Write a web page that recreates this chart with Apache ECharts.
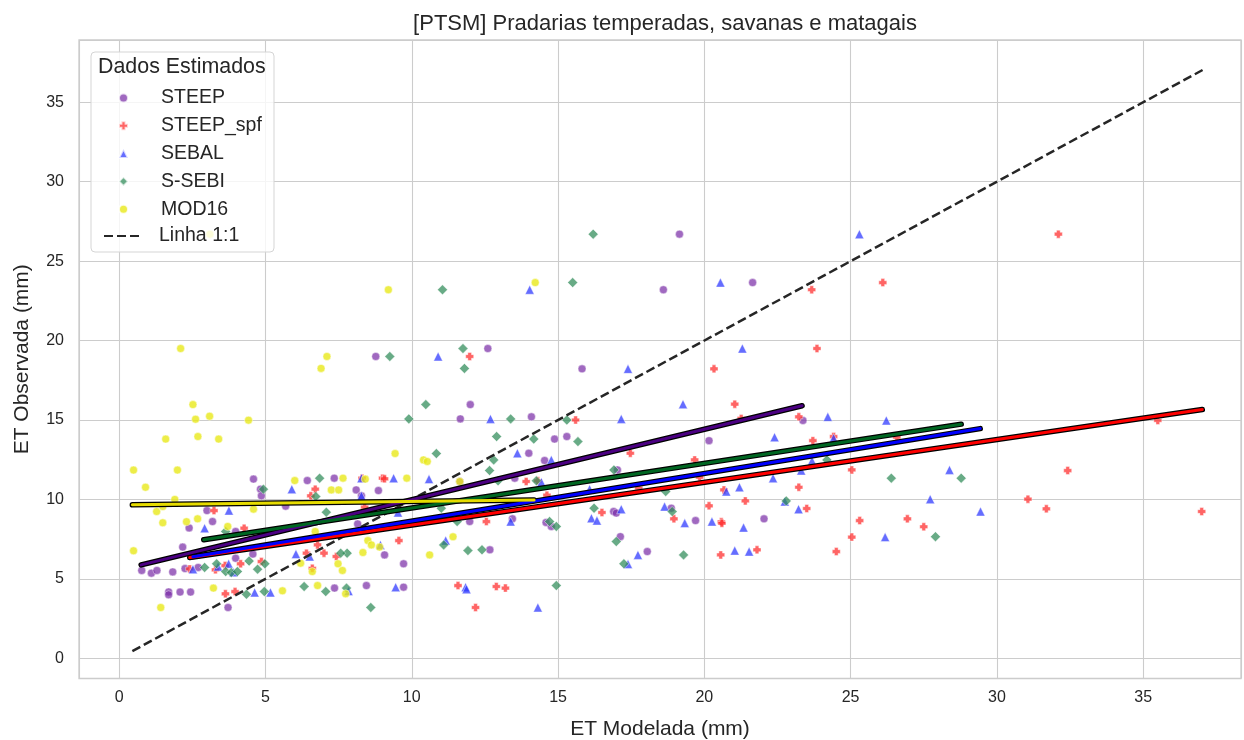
<!DOCTYPE html>
<html><head><meta charset="utf-8">
<script src="https://cdn.jsdelivr.net/npm/echarts@6/dist/echarts.min.js"></script>
<style>html,body{margin:0;padding:0;background:#fff}#c{width:1244px;height:740px}</style>
</head><body><div id="c"></div>
<script>
// ---- data (ET Modelada, ET Observada) ----
const steep = [[19.15,26.7],[21.65,23.65],[18.6,23.2],[12.6,19.5],[8.77,19.0],[15.82,18.22],[12.0,15.97],[11.66,15.07],[14.09,15.2],[23.37,14.97],
[15.3,13.96],[14.88,13.8],[20.16,13.7],[14.0,12.91],[14.54,12.45],[13.52,11.34],[11.64,11.13],[7.35,11.34],[4.59,11.28],[6.43,11.19],
[17.03,11.86],[4.83,10.65],[8.1,10.6],[8.86,10.56],[4.86,10.23],[8.28,10.23],[5.69,9.58],[3.0,9.3],[16.9,9.24],[16.99,9.14],[18.87,9.45],
[3.19,8.61],[8.15,8.46],[13.44,8.78],[11.98,8.61],[14.59,8.55],[14.77,8.3],[19.7,8.67],[22.04,8.78],[2.39,8.21],[3.98,7.98],[17.13,7.66],
[2.17,7.0],[12.67,6.83],[9.07,6.51],[18.05,6.72],[3.98,6.3],[4.57,6.56],[9.72,5.95],[0.77,5.53],[1.1,5.36],[1.29,5.53],[1.83,5.44],
[2.25,5.65],[2.7,5.72],[1.69,4.18],[1.69,4.0],[2.08,4.17],[2.44,4.17],[8.45,4.58],[9.72,4.48],[7.36,4.42],[3.72,3.2]];
const steepSpf = [[32.1,26.7],[26.1,23.65],[23.67,23.2],[23.85,19.5],[11.98,19.0],[20.33,18.22],[21.04,16.0],[23.23,15.2],[21.26,15.1],[15.6,15.0],
[35.5,14.97],[24.42,13.96],[26.58,13.92],[23.71,13.7],[17.47,12.91],[19.67,12.49],[25.04,11.86],[32.42,11.82],[19.84,11.4],[8.3,11.34],
[9.0,11.34],[9.07,11.3],[13.91,11.13],[14.31,11.17],[17.76,10.71],[20.67,10.6],[23.23,10.77],[6.7,10.65],[6.55,10.23],[14.62,10.27],
[21.4,9.91],[31.06,10.02],[20.16,9.6],[8.39,9.52],[3.24,9.3],[16.5,9.18],[23.5,9.43],[31.69,9.41],[37.0,9.24],[12.55,8.61],[18.96,8.78],
[20.58,8.59],[20.6,8.5],[25.31,8.67],[26.94,8.78],[27.5,8.28],[4.27,8.19],[25.04,7.63],[9.56,7.41],[6.78,7.14],[24.51,6.72],[21.8,6.83],
[20.56,6.51],[6.4,6.62],[7.0,6.62],[7.42,6.41],[4.86,6.09],[4.15,5.95],[3.62,5.84],[3.29,5.57],[2.41,5.63],[6.6,5.67],[11.58,4.58],
[12.89,4.52],[13.2,4.42],[3.63,4.06],[3.96,4.2],[12.18,3.2]];
const sebal = [[25.3,26.7],[20.55,23.65],[14.03,23.2],[21.3,19.5],[10.9,19.0],[17.39,18.22],[19.27,16.0],[12.69,15.07],[17.16,15.07],[24.22,15.2],
[26.22,14.97],[24.42,13.86],[22.4,13.92],[13.61,12.91],[14.77,12.49],[23.68,12.43],[23.31,11.82],[22.35,11.34],[8.28,11.34],[9.38,11.34],
[10.59,11.28],[14.43,11.09],[28.38,11.86],[16.08,10.65],[5.9,10.65],[20.75,10.5],[21.2,10.77],[8.28,10.23],[27.72,10.02],[22.75,9.87],
[3.75,9.3],[9.53,9.18],[17.16,9.39],[18.64,9.55],[23.22,9.39],[29.44,9.24],[13.38,8.61],[16.14,8.82],[16.33,8.67],[19.33,8.51],[20.26,8.61],
[21.34,8.23],[2.92,8.19],[26.18,7.63],[11.16,7.41],[8.93,7.14],[17.73,6.51],[21.04,6.78],[21.53,6.72],[6.04,6.56],[6.51,6.41],[3.74,5.95],
[3.38,5.78],[2.52,5.61],[3.91,5.42],[17.39,5.93],[4.63,4.15],[5.17,4.15],[7.84,4.23],[9.45,4.48],[11.84,4.48],[11.87,4.35],[14.31,3.2]];
const ssebi = [[16.2,26.7],[15.5,23.65],[11.05,23.2],[11.75,19.5],[9.25,19.0],[11.8,18.25],[10.48,15.97],[9.9,15.07],[13.38,15.07],[15.3,15.0],
[12.9,13.96],[14.17,13.8],[15.68,13.64],[10.84,12.89],[12.8,12.49],[24.19,12.49],[12.66,11.82],[16.91,11.86],[6.85,11.34],[12.95,11.17],
[14.26,11.17],[26.39,11.34],[28.78,11.34],[18.68,10.5],[4.93,10.65],[6.72,10.18],[22.8,9.91],[11.01,9.45],[16.23,9.45],[18.9,9.24],
[7.08,9.2],[11.55,8.61],[14.71,8.61],[14.94,8.3],[3.64,7.98],[27.9,7.66],[16.99,7.35],[11.09,7.14],[11.92,6.78],[12.4,6.83],[7.79,6.62],
[7.57,6.62],[19.29,6.51],[4.44,6.12],[3.33,5.95],[4.98,5.95],[2.92,5.72],[3.64,5.46],[3.83,5.4],[4.04,5.46],[4.73,5.61],[17.25,5.95],
[4.35,4.03],[4.96,4.2],[6.32,4.52],[7.06,4.2],[7.77,4.42],[14.94,4.58],[8.6,3.2]];
const mod16 = [[3.1,26.7],[14.22,23.65],[9.2,23.2],[2.1,19.5],[7.1,19.0],[6.9,18.25],[2.52,15.97],[2.61,15.05],[3.09,15.24],[4.42,14.99],
[1.59,13.8],[2.69,13.96],[3.4,13.8],[9.43,12.89],[10.4,12.49],[10.53,12.39],[0.49,11.85],[1.99,11.85],[6.0,11.19],[7.65,11.34],[8.41,11.28],
[9.83,11.34],[11.64,11.13],[0.9,10.77],[1.9,10.0],[7.25,10.6],[7.5,10.6],[1.28,9.24],[1.49,9.55],[4.59,9.39],[1.49,8.53],[2.3,8.6],
[2.68,8.78],[3.71,8.3],[6.7,7.98],[11.41,7.65],[8.5,7.41],[8.62,7.14],[8.9,7.0],[0.49,6.77],[8.33,6.66],[10.61,6.51],[6.2,5.99],[7.48,5.95],
[6.6,5.46],[7.63,5.53],[6.78,4.58],[3.22,4.42],[5.58,4.25],[7.74,4.06],[1.42,3.2]];

// regression line end points
const fitSteep = [[0.75,5.88],[23.34,15.9]];
const fitSteepSpf = [[2.41,6.34],[37.02,15.66]];
const fitSebal = [[2.52,6.4],[29.43,14.46]];
const fitSsebi = [[2.89,7.46],[28.78,14.74]];
const fitMod16 = [[0.45,9.66],[14.18,9.97]];
const lineOneToOne = [[0.45,0.45],[37.03,37.03]];

const seriesNames = ['STEEP','STEEP_spf','SEBAL','S-SEBI','MOD16'];
const xTicks = [0,5,10,15,20,25,30,35];
const yTicks = [0,5,10,15,20,25,30,35];

const FONT = 'Liberation Sans, Arial, sans-serif';
const TXT = '#262626';
const plusPath = 'path://M27,0H73V27H100V73H73V100H27V73H0V27H27Z';

function scatter(name, data, color, symbol, size, op) {
  return { name, type: 'scatter', data, symbol, symbolSize: size, z: 2,
    itemStyle: { color, opacity: op, borderColor: '#ffffff', borderWidth: 0.6 },
    emphasis: { disabled: true } };
}
function fit(data, color) {
  return [
    { type: 'line', data, symbol: 'none', silent: true, z: 5,
      lineStyle: { color: '#000000', width: 5.5, cap: 'round' } },
    { type: 'line', data, symbol: 'none', silent: true, z: 6,
      lineStyle: { color, width: 3, cap: 'round' } }
  ];
}
const tickFmt = ticks => v => ticks.indexOf(Math.round(v * 1000) / 1000) >= 0 ? String(Math.round(v)) : '';

const chart = echarts.init(document.getElementById('c'), null, { renderer: 'canvas' });
chart.setOption({
  animation: false,
  backgroundColor: '#ffffff',
  textStyle: { fontFamily: FONT },
  title: { text: '[PTSM] Pradarias temperadas, savanas e matagais', left: 660, textAlign: 'center', top: 8,
    textStyle: { fontFamily: FONT, fontSize: 22, fontWeight: 'normal', color: TXT } },
  grid: { left: 79, top: 40, width: 1162, height: 638.5, show: true, borderColor: '#cccccc', borderWidth: 1.3,
    containLabel: false, outerBoundsMode: 'none' },
  xAxis: { type: 'value', min: -1.374, max: 38.343, minInterval: 5, maxInterval: 5, splitNumber: 8,
    name: 'ET Modelada (mm)', nameLocation: 'middle', nameGap: 40,
    nameTextStyle: { fontFamily: FONT, fontSize: 21, color: TXT },
    axisLine: { show: false }, axisTick: { show: false },
    axisLabel: { fontFamily: FONT, fontSize: 16, color: TXT, margin: 11, formatter: tickFmt(xTicks) },
    splitLine: { show: true, lineStyle: { color: '#cccccc', width: 1.1 } } },
  yAxis: { type: 'value', min: -1.27, max: 38.92, minInterval: 5, maxInterval: 5, splitNumber: 8,
    name: 'ET Observada (mm)', nameLocation: 'middle', nameGap: 46,
    nameTextStyle: { fontFamily: FONT, fontSize: 21, color: TXT },
    axisLine: { show: false }, axisTick: { show: false },
    axisLabel: { fontFamily: FONT, fontSize: 16, color: TXT, margin: 15, formatter: tickFmt(yTicks) },
    splitLine: { show: true, lineStyle: { color: '#cccccc', width: 1.1 } } },
  legend: [
    { data: seriesNames, orient: 'vertical', left: 113, top: 83, itemWidth: 9, itemHeight: 9, itemGap: 7.8, z: 20,
      selectedMode: false,
      textStyle: { fontFamily: FONT, fontSize: 19.5, color: TXT, padding: [0, 0, 0, 28] } },
    { data: ['Linha 1:1'], orient: 'vertical', left: 98, top: 221, itemWidth: 39, itemHeight: 14, z: 20,
      selectedMode: false,
      itemStyle: { color: 'rgba(0,0,0,0)', borderWidth: 0, opacity: 0 },
      textStyle: { fontFamily: FONT, fontSize: 19.5, color: TXT, padding: [0, 0, 0, 11] } }
  ],
  graphic: [
    { type: 'rect', z: 15, shape: { x: 91, y: 52, width: 183, height: 200, r: 4 },
      style: { fill: 'rgba(255,255,255,0.8)', stroke: '#d5d5d5', lineWidth: 1 } },
    { type: 'text', z: 16, x: 98, y: 67, style: { text: 'Dados Estimados', fontFamily: FONT, fontSize: 21.4, fill: TXT, verticalAlign: 'middle' } }
  ],
  series: [
    scatter('STEEP', steep, '#7b2fa8', 'circle', 8, 0.72),
    scatter('STEEP_spf', steepSpf, '#ff2a2a', plusPath, 8, 0.72),
    scatter('SEBAL', sebal, '#2a35ff', 'triangle', 9, 0.72),
    scatter('S-SEBI', ssebi, '#2e8b57', 'diamond', 10, 0.72),
    scatter('MOD16', mod16, '#e8e81a', 'circle', 8, 0.8),
    { name: 'Linha 1:1', type: 'line', data: lineOneToOne, symbol: 'none', silent: true, z: 4,
      itemStyle: { color: '#262626' },
      lineStyle: { color: '#262626', width: 2.5, type: [9, 4] } },
    ...fit(fitSteep, '#4b0082'),
    ...fit(fitSteepSpf, '#ff0000'),
    ...fit(fitSebal, '#0000ff'),
    ...fit(fitSsebi, '#006622'),
    ...fit(fitMod16, '#e6dc00')
  ]
});
</script></body></html>
